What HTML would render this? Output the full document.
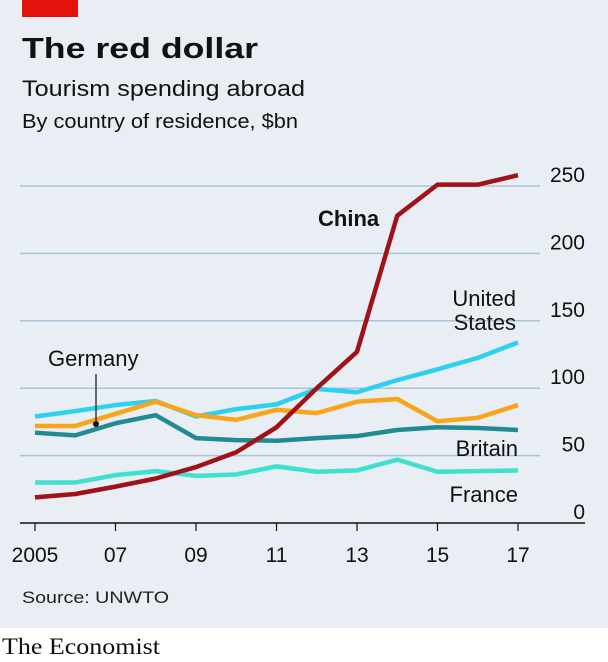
<!DOCTYPE html>
<html><head><meta charset="utf-8"><style>
body{margin:0;width:608px;height:662px;overflow:hidden;font-family:"Liberation Sans",sans-serif}
#bg{position:absolute;left:0;top:0;width:608px;height:628px;background:#e8eef3}
#foot{position:absolute;left:0;top:628px;width:608px;height:34px;background:#fff}
</style></head><body>
<div id="bg"></div>
<div id="foot"></div>
<svg width="608" height="662" style="position:absolute;left:0;top:0">
<rect x="22" y="0" width="56" height="17" fill="#e3120b"/>
<text x="22" y="58" font-size="29" font-weight="bold" fill="#111" textLength="236" lengthAdjust="spacingAndGlyphs">The red dollar</text>
<text x="22" y="96" font-size="22" fill="#111" textLength="283" lengthAdjust="spacingAndGlyphs">Tourism spending abroad</text>
<text x="22" y="128" font-size="20" fill="#111" textLength="276" lengthAdjust="spacingAndGlyphs">By country of residence, $bn</text>
<g id="grid"></g><g id="lines"></g>
<text x="318" y="226" font-size="22" font-weight="bold" fill="#111">China</text>
<text x="516" y="306" font-size="22" fill="#111" text-anchor="end"><tspan x="516">United</tspan><tspan x="516" dy="24">States</tspan></text>
<text x="48" y="366" font-size="22" fill="#111">Germany</text>
<line x1="96" y1="374" x2="96" y2="423" stroke="#111" stroke-width="1.2"/>
<circle cx="96" cy="424" r="3" fill="#111"/>
<text x="518" y="456" font-size="22" fill="#111" text-anchor="end">Britain</text>
<text x="518" y="502" font-size="22" fill="#111" text-anchor="end">France</text>
<text x="22" y="603" font-size="17" fill="#222" textLength="147" lengthAdjust="spacingAndGlyphs">Source: UNWTO</text>
<text x="2" y="654" font-size="23" font-family="Liberation Serif,serif" fill="#111" textLength="158" lengthAdjust="spacingAndGlyphs">The Economist</text>
</svg>
<script>
const years=[2005,2006,2007,2008,2009,2010,2011,2012,2013,2014,2015,2016,2017];
const yTicks=[0,50,100,150,200,250];
const xTickYears=[2005,2007,2009,2011,2013,2015,2017];
const xTickLabels=["2005","07","09","11","13","15","17"];
const us=[79,83,87.5,90.5,79,84.5,88,99.5,97,106,114,122.5,134];
const germany=[72,72,81,90,80,76.5,84,81.5,90,92,75.5,78,87.5];
const britain=[67,65,74,80,63,61.5,61,63,64.5,69,71,70.5,69];
const france=[30,30,35.5,38.5,35,36,42,38,39,47,38,38.5,39];
const china=[19,21.5,27,33,41.5,52.5,71,100,127,228,251,251,258];
const X=y=>35+(y-2005)*40.25;
const Y=v=>523-v*1.348;
const NS="http://www.w3.org/2000/svg";
const grid=document.getElementById('grid'),lines=document.getElementById('lines');
yTicks.forEach(t=>{
 if(t>0){const l=document.createElementNS(NS,'line');
 l.setAttribute('x1',20);l.setAttribute('x2',540);l.setAttribute('y1',Y(t));l.setAttribute('y2',Y(t));
 l.setAttribute('stroke','#a9c3d8');l.setAttribute('stroke-width','1.5');
 
 
 grid.appendChild(l);}
 const tx=document.createElementNS(NS,'text');
 tx.setAttribute('x',585);tx.setAttribute('y',Y(t)-4);tx.setAttribute('text-anchor','end');
 tx.setAttribute('font-size','21');tx.setAttribute('fill','#111');tx.textContent=t;
 
 
 grid.appendChild(tx);
});
const base=document.createElementNS(NS,'line');
base.setAttribute('x1',20);base.setAttribute('x2',585);base.setAttribute('y1',Y(0));base.setAttribute('y2',Y(0));
base.setAttribute('stroke','#111');base.setAttribute('stroke-width','1.5');


grid.appendChild(base);
xTickYears.forEach((yr,i)=>{
 const t=document.createElementNS(NS,'line');
 t.setAttribute('x1',X(yr));t.setAttribute('x2',X(yr));t.setAttribute('y1',Y(0));t.setAttribute('y2',Y(0)+8);
 t.setAttribute('stroke','#111');t.setAttribute('stroke-width','1.2');
 
 
 grid.appendChild(t);
 const tx=document.createElementNS(NS,'text');
 tx.setAttribute('x',X(yr));tx.setAttribute('y',562);tx.setAttribute('text-anchor','middle');
 tx.setAttribute('font-size','21');tx.setAttribute('fill','#111');tx.textContent=xTickLabels[i];
 
 
 grid.appendChild(tx);
});
function draw(vals,color,name){
 const p=document.createElementNS(NS,'polyline');
 p.setAttribute('points',vals.map((v,i)=>X(years[i])+','+Y(v)).join(' '));
 p.setAttribute('fill','none');p.setAttribute('stroke',color);p.setAttribute('stroke-width','4.5');
 p.setAttribute('stroke-linejoin','round');
 
 
 lines.appendChild(p);
}
draw(france,'#3ee0cf','line-france');
draw(britain,'#218a93','line-britain');
draw(us,'#2ed0f0','line-united-states');
draw(germany,'#f9a51c','line-germany');
draw(china,'#a11218','line-china');
</script>
</body></html>
